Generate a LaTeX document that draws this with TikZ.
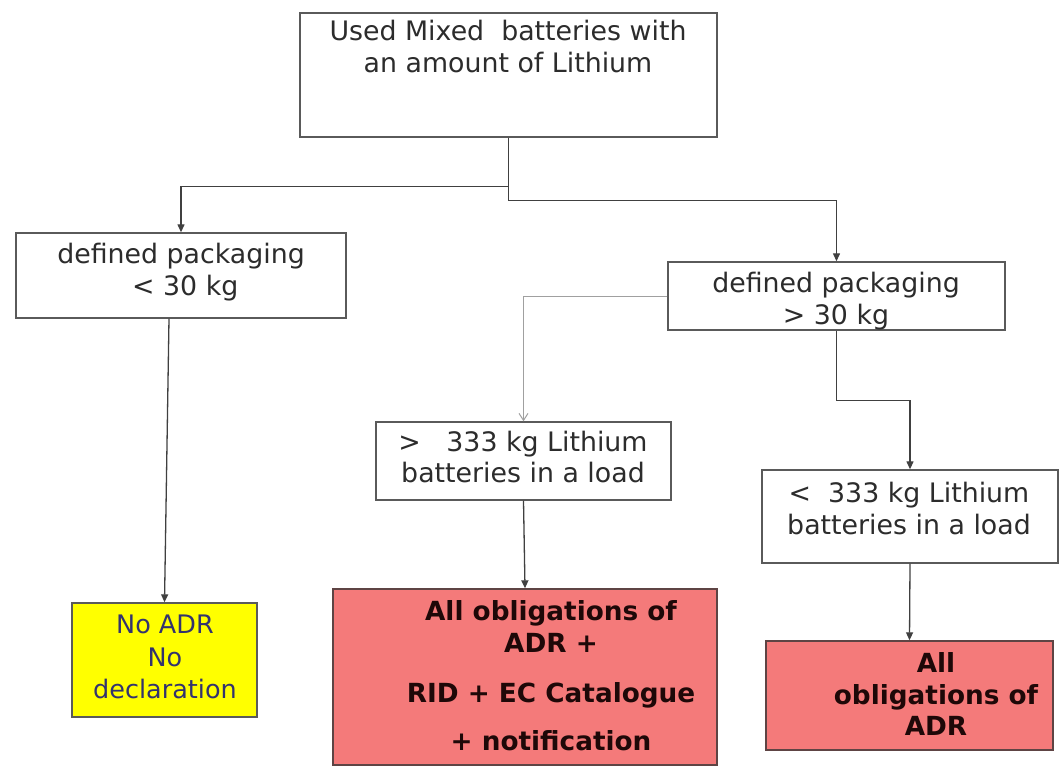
\documentclass[tikz,border=0pt]{standalone}
\usepackage{fontspec}
\setmainfont{DejaVu Sans}
\usetikzlibrary{arrows.meta}

\definecolor{boxline}{HTML}{5A5A5A}
\definecolor{wireline}{HTML}{404040}
\definecolor{lightwire}{HTML}{A0A0A0}
\definecolor{alarmfill}{HTML}{F47A7A}
\definecolor{alarmline}{HTML}{5E4444}
\definecolor{okfill}{HTML}{FFFF00}
\definecolor{navytext}{HTML}{33336E}
\definecolor{plaintext}{HTML}{2C2C2C}
\definecolor{boldtext}{HTML}{1E0808}

\tikzset{
  box/.style={draw=boxline, line width=1.4pt, fill=white, inner sep=0pt},
  redbox/.style={draw=alarmline, line width=1.4pt, fill=alarmfill, inner sep=0pt},
  yelbox/.style={draw=boxline, line width=1.4pt, fill=okfill, inner sep=0pt},
  txt/.style={align=center, inner sep=0pt, text=plaintext,
              font=\fontsize{26.8}{32}\selectfont},
  boldtxt/.style={align=center, inner sep=0pt, text=boldtext,
              font=\fontsize{26.3}{32}\selectfont\bfseries},
  wire/.style={draw=wireline, line width=1.3pt,
              -{Triangle[length=8pt,width=7pt]}},
  thinwire/.style={draw=lightwire, line width=1pt,
              -{Straight Barb[length=7pt,width=9pt]}}
}

\begin{document}
\begin{tikzpicture}[x=1pt, y=-1pt]
  \useasboundingbox (0,0) rectangle (1064,771);

  % boxes
  \node[box, minimum width=417pt, minimum height=124pt] (top)   at (508.5,75) {};
  \node[box, minimum width=330pt, minimum height=85pt]  (left)  at (181,275.5) {};
  \node[box, minimum width=337pt, minimum height=68pt]  (right) at (836.5,296) {};
  \node[box, minimum width=295pt, minimum height=78pt]  (mid)   at (523.5,461) {};
  \node[box, minimum width=296pt, minimum height=93pt]  (rlow)  at (910,516.5) {};
  \node[yelbox, minimum width=185pt, minimum height=114pt] (nodecl) at (164.5,660) {};
  \node[redbox, minimum width=384pt, minimum height=176pt] (fulladr) at (525,677) {};
  \node[redbox, minimum width=287pt, minimum height=109pt] (adronly) at (909.5,695.5) {};

  % texts
  \node[txt] (topT) at (508,46.5) {Used Mixed\ \ batteries with\\an amount of Lithium};
  \node[txt] (leftT) at (181,272) {defined packaging\\\ \textless\ 30 kg};
  \node[txt] (rightT) at (836,301) {defined packaging\\\textgreater\ 30 kg};
  \node[txt] (midT) at (523,457) {\textgreater\ \ \ 333 kg Lithium\\batteries in a load};
  \node[txt] (rlowT) at (909,508) {\textless\ \ 333 kg Lithium\\batteries in a load};
  \node[txt, text=navytext, font=\fontsize{25.5}{32.5}\selectfont] (nodeclT) at (165,657) {No ADR\\No\\declaration};
  \node[boldtxt] (fulladrT) at (551,676) {All obligations of\\ADR +\\[18pt]RID + EC Catalogue\\[16pt]+ notification};
  \node[boldtxt, font=\fontsize{26.3}{31.5}\selectfont\bfseries] (adronlyT) at (936,694) {All\\obligations of\\ADR};

  % connectors
  \draw[wire] (top.south) -- ++(0,49) -| (left.north);
  \draw[wire] (top.south) -- ++(0,63) -| (right.north);
  \draw[thinwire] (right.west) -| (mid.north);
  \draw[wire] (right.south) -- ++(0,70) -| (rlow.north);
  \draw[wire] ([xshift=-12pt]left.south) -- (nodecl.north);
  \draw[wire] (mid.south) -- (fulladr.north);
  \draw[wire] (rlow.south) -- (adronly.north);
\end{tikzpicture}
\end{document}
